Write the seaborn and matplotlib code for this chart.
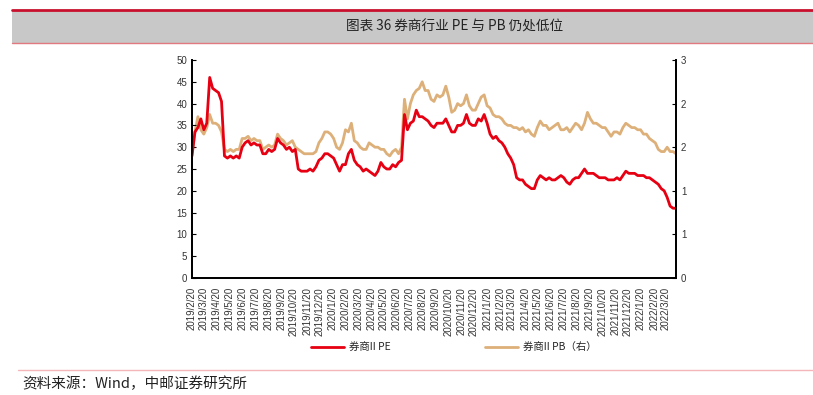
import pandas as pd
import matplotlib
matplotlib.use('Agg')
import matplotlib.pyplot as plt
import seaborn as sns
from matplotlib.patches import Rectangle
from matplotlib.lines import Line2D

# weekly readings, 2019/2/20 -> 2022/4
dates = pd.date_range('2019-02-20', periods=165, freq='7D')

pe = [28, 33.5, 34.5, 36.5, 34, 35.5, 46, 43.5, 43, 42.5,
      40.5, 28, 27.5, 28, 27.5, 28, 27.5, 30, 31, 31.5,
      30.5, 31, 30.5, 30.5, 28.5, 28.5, 29.5, 29, 29.5, 32,
      31, 30.5, 29.5, 30, 29, 29.5, 25, 24.5, 24.5, 24.5,
      25, 24.5, 25.5, 27, 27.5, 28.5, 28.5, 28, 27.5, 26,
      24.5, 26, 26, 28.5, 29.5, 27, 26, 25.5, 24.5, 25,
      24.5, 24, 23.5, 24.5, 26.5, 25.5, 25, 25, 26, 25.5,
      26.5, 27, 37.5, 34, 35.5, 36, 38.5, 37, 37, 36.5,
      36, 35, 34.5, 35.5, 35.5, 35.5, 36.5, 35, 33.5, 33.5,
      35, 35, 35.5, 37.5, 35.5, 35, 35, 36.5, 36, 37.5,
      35.5, 33, 32, 32.5, 31.5, 31, 30, 28.5, 27.5, 26,
      23, 22.5, 22.5, 21.5, 21, 20.5, 20.5, 22.5, 23.5, 23,
      22.5, 23, 22.5, 22.5, 23, 23.5, 23, 22, 21.5, 22.5,
      23, 23, 24, 25, 24, 24, 24, 23.5, 23, 23,
      23, 22.5, 22.5, 22.5, 23, 22.5, 23.5, 24.5, 24, 24,
      24, 23.5, 23.5, 23.5, 23, 23, 22.5, 22, 21.5, 20.5,
      20, 18.5, 16.5, 16, 16]

pb = [1.71, 2.01, 2.22, 2.04, 1.98, 2.07, 2.25, 2.13, 2.13, 2.10,
      2.01, 1.77, 1.74, 1.77, 1.74, 1.77, 1.77, 1.92, 1.92, 1.95,
      1.89, 1.92, 1.89, 1.89, 1.77, 1.80, 1.83, 1.80, 1.83, 1.98,
      1.92, 1.89, 1.83, 1.86, 1.89, 1.80, 1.77, 1.74, 1.71, 1.71,
      1.71, 1.71, 1.74, 1.86, 1.92, 2.01, 2.01, 1.98, 1.92, 1.80,
      1.77, 1.86, 2.04, 2.01, 2.13, 1.89, 1.86, 1.80, 1.77, 1.77,
      1.86, 1.83, 1.80, 1.80, 1.77, 1.77, 1.71, 1.68, 1.74, 1.77,
      1.71, 1.80, 2.46, 2.19, 2.40, 2.52, 2.58, 2.61, 2.70, 2.58,
      2.58, 2.46, 2.43, 2.52, 2.49, 2.52, 2.64, 2.49, 2.28, 2.31,
      2.40, 2.37, 2.40, 2.52, 2.37, 2.31, 2.31, 2.40, 2.49, 2.52,
      2.37, 2.34, 2.25, 2.22, 2.22, 2.19, 2.13, 2.10, 2.10, 2.07,
      2.07, 2.04, 2.07, 2.01, 2.04, 1.98, 1.95, 2.07, 2.16, 2.10,
      2.10, 2.04, 2.07, 2.10, 2.13, 2.04, 2.04, 2.07, 2.01, 2.07,
      2.13, 2.10, 2.04, 2.13, 2.28, 2.19, 2.13, 2.13, 2.10, 2.07,
      2.07, 2.01, 1.95, 2.01, 2.01, 1.98, 2.07, 2.13, 2.10, 2.07,
      2.07, 2.04, 2.04, 1.98, 1.98, 1.92, 1.89, 1.86, 1.77, 1.74,
      1.74, 1.80, 1.74, 1.74, 1.71]

tick_dates = pd.date_range('2019-02-01', '2022-03-01', freq='MS') + pd.Timedelta(days=19)
tick_labels = [f'{d.year}/{d.month}/{d.day}' for d in tick_dates]
right_ticks = [0, 0.6, 1.2, 1.8, 2.4, 3.0]

red = '#E60012'
tan = '#DDB07A'

sns.set_style('white')
plt.rcParams['font.family'] = ['Liberation Sans', 'Noto Sans CJK SC', 'DejaVu Sans']
cjk = ['Noto Sans CJK SC', 'DejaVu Sans']

fig = plt.figure(figsize=(8.13, 3.95), dpi=100)
ax = fig.add_axes([192 / 813, 1 - 278 / 395, (676 - 192) / 813, (278 - 60) / 395])
ax2 = ax.twinx()

sns.lineplot(x=dates, y=pe, ax=ax, color=red, linewidth=2.0, label='券商II PE', legend=False)
sns.lineplot(x=dates, y=pb, ax=ax2, color=tan, linewidth=2.0, label='券商II PB（右）', legend=False)
ax.set_zorder(ax2.get_zorder() + 1)
ax.patch.set_visible(False)

ax.set_xlim(dates[0], dates[-1])
ax.set_ylim(0, 50)
ax.set_yticks(range(0, 51, 5))
ax2.set_ylim(0, 3)
ax2.set_yticks(right_ticks)
ax2.set_yticklabels([f'{v:.0f}' for v in right_ticks])
ax.set_xticks(tick_dates)
ax.set_xticklabels(tick_labels, rotation=90)
ax.set_xlabel('')
ax.set_ylabel('')
ax2.set_ylabel('')

for a in (ax, ax2):
    a.spines['top'].set_visible(False)
    for s in ('left', 'right', 'bottom'):
        a.spines[s].set_color('black')
        a.spines[s].set_linewidth(1.3)
ax.tick_params(axis='y', direction='in', length=3, labelsize=7, colors='#333333')
ax.tick_params(axis='x', direction='out', length=3, labelsize=7, colors='#333333')
ax2.tick_params(axis='y', direction='in', length=3, labelsize=7, colors='#333333')
for a in (ax, ax2):
    a.tick_params(color='black')

h1, l1 = ax.get_legend_handles_labels()
h2, l2 = ax2.get_legend_handles_labels()
fig.legend(h1 + h2, l1 + l2, loc='center', bbox_to_anchor=(0.558, 1 - 348 / 395), ncol=2,
           frameon=False, columnspacing=9, handlelength=3.2, handletextpad=0.5,
           prop={'family': cjk, 'size': 7.5})

# title bar
fig.patches.append(Rectangle((12 / 813, 1 - 43 / 395), 1 - 12 / 813, 33 / 395,
                             transform=fig.transFigure, facecolor='#C8C8C8', edgecolor='none'))
fig.lines.append(Line2D([12 / 813, 1], [1 - 10 / 395] * 2, transform=fig.transFigure,
                        color='#C8102E', linewidth=2))
fig.lines.append(Line2D([12 / 813, 1], [1 - 43 / 395] * 2, transform=fig.transFigure,
                        color='#E07A80', linewidth=1))
fig.text(455 / 813, 1 - 27 / 395, '图表 36 券商行业 PE 与 PB 仍处低位', ha='center', va='center',
         fontsize=9.8, family=cjk, color='#222222')

# source
fig.lines.append(Line2D([18 / 813, 1], [1 - 370 / 395] * 2, transform=fig.transFigure,
                        color='#F4B6B8', linewidth=1))
fig.text(22 / 813, 1 - 384 / 395, '资料来源：Wind，中邮证券研究所', ha='left', va='center',
         fontsize=10.5, family=cjk, color='#222222')

fig.savefig('out.png', dpi=100)
